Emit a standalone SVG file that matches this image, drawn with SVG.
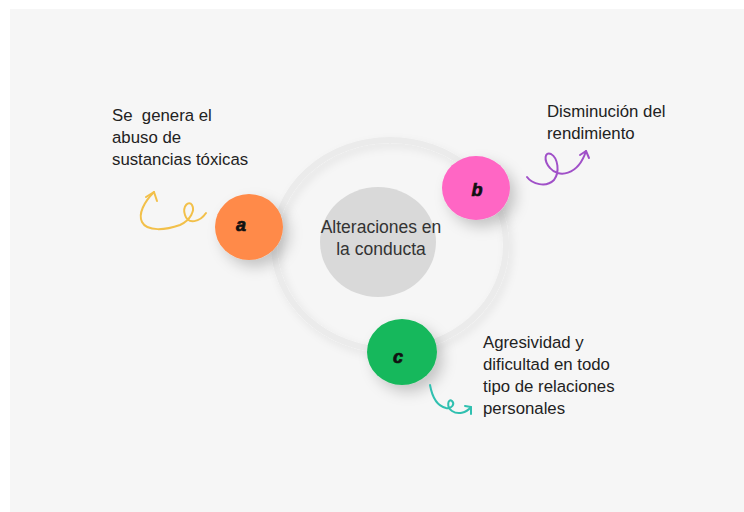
<svg xmlns="http://www.w3.org/2000/svg" width="744" height="512" viewBox="0 0 744 512">
  <defs>
    <filter id="sh" x="-50%" y="-50%" width="200%" height="200%">
      <feDropShadow dx="6" dy="7" stdDeviation="7" flood-color="#000" flood-opacity="0.2"/>
    </filter>
    <filter id="shr" x="-20%" y="-20%" width="140%" height="140%">
      <feDropShadow dx="3" dy="4" stdDeviation="4" flood-color="#000" flood-opacity="0.08"/>
    </filter>
    <style>
      .lbl { font-family: "Liberation Sans", Arial, sans-serif; font-size: 16.8px; fill: #222; white-space: pre; }
      .ctr { font-family: "Liberation Sans", Arial, sans-serif; font-size: 17.5px; fill: #333; text-anchor: middle; }
      .let { font-family: "Liberation Sans", Arial, sans-serif; font-size: 18px; font-weight: bold; font-style: italic; fill: #111; stroke: #111; stroke-width: 0.7; text-anchor: middle; }
      .sq { fill: none; stroke-width: 2; stroke-linecap: round; stroke-linejoin: round; }
    </style>
  </defs>
  <rect x="0" y="0" width="744" height="512" fill="#ffffff"/>
  <rect x="10" y="9" width="734" height="503" fill="#f6f6f6"/>

  <g id="ring">
    <ellipse cx="390" cy="245" rx="116" ry="105" fill="none" stroke="#ebebeb" stroke-width="6" filter="url(#shr)"/>
  </g>

  <g id="center">
    <ellipse cx="378" cy="242" rx="58" ry="55" fill="#d9d9d9"/>
    <text class="ctr" x="381" y="233">Alteraciones en</text>
    <text class="ctr" x="381" y="255">la conducta</text>
  </g>

  <g id="node-a">
    <ellipse cx="249" cy="227" rx="34" ry="33" fill="#ff8a48" filter="url(#sh)"/>
    <text class="let" x="241" y="231">a</text>
  </g>
  <g id="node-b">
    <ellipse cx="476" cy="188" rx="34" ry="32" fill="#ff66c4" filter="url(#sh)"/>
    <text class="let" x="477" y="196">b</text>
  </g>
  <g id="node-c">
    <ellipse cx="402" cy="352" rx="35" ry="33" fill="#17b85b" filter="url(#sh)"/>
    <text class="let" x="398" y="363">c</text>
  </g>

  <g id="label-a">
    <text class="lbl" x="112" y="121">Se  genera el</text>
    <text class="lbl" x="112" y="143">abuso de</text>
    <text class="lbl" x="112" y="165">sustancias tóxicas</text>
  </g>
  <g id="label-b">
    <text class="lbl" x="547" y="117">Disminución del</text>
    <text class="lbl" x="547" y="139">rendimiento</text>
  </g>
  <g id="label-c">
    <text class="lbl" x="483" y="348">Agresividad y</text>
    <text class="lbl" x="483" y="370">dificultad en todo</text>
    <text class="lbl" x="483" y="392">tipo de relaciones</text>
    <text class="lbl" x="483" y="414">personales</text>
  </g>

  <g id="connectors">
    <path class="sq" stroke="#f2c04a" d="M154,192 C144,202 138,214 142,222 C147,232 166,230 180,225 C191,220 195,210 192,205 C189,200 182,206 185,215 C188,225 200,222 206,213"/>
    <path class="sq" stroke="#f2c04a" d="M146,197 L154,192 L157,201"/>
    <path class="sq" stroke="#a050c8" d="M527,177 C532,184 546,188 554,180 C560,172 558,158 551,154 C545,151 543,160 550,168 C558,178 578,176 586,151"/>
    <path class="sq" stroke="#a050c8" d="M580,155 L586,151 L589,158"/>
    <path class="sq" stroke="#30c0b0" d="M430,385 C432,396 437,406 446,408 C452,409 455,404 452,401 C448,398 446,407 452,411 C458,415 466,413 471,407"/>
    <path class="sq" stroke="#30c0b0" d="M465,406 L471,407 L471,414"/>
  </g>
</svg>
